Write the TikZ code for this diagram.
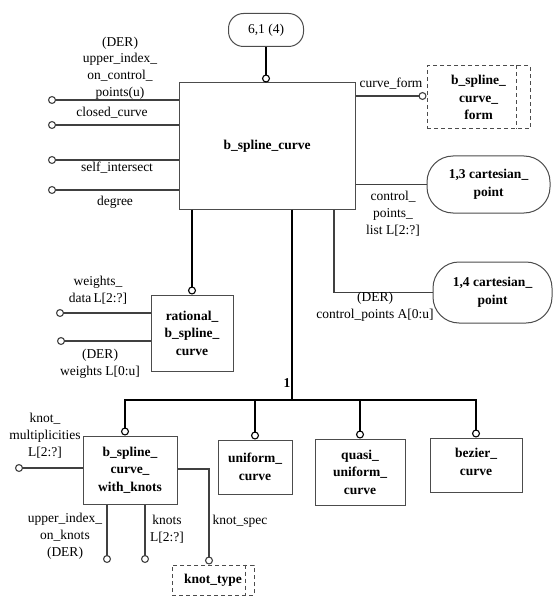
\documentclass[tikz,border=0pt]{standalone}
\usepackage{fontspec}
\setmainfont{Liberation Serif}
\usetikzlibrary{arrows.meta}
\begin{document}
\begin{tikzpicture}[x=1pt,y=-1pt,
  every node/.style={font=\fontsize{13.5}{16}\selectfont, align=center, inner sep=0pt},
  ent/.style={draw=black!70, line width=1pt, font=\fontsize{13.5}{17.5}\selectfont\bfseries},
  dent/.style={ent, dash pattern=on 4pt off 3pt},
  rnd/.style={ent, rounded corners=26pt},
  lbl/.style={font=\fontsize{13.5}{16.8}\selectfont},
  thinln/.style={draw=black!75, line width=1.1pt},
  thickln/.style={draw=black, line width=2pt},
  ctip/.tip={Circle[open, length=8pt, line width=1.1pt]},
  ]
\useasboundingbox (0,0) rectangle (557,604);
% entities
\node[ent, rounded corners=15pt, font=\fontsize{13.5}{16}\selectfont, minimum width=75pt, minimum height=33pt] (top) at (266,30) {6,1 (4)};
\node[ent, minimum width=176pt, minimum height=126pt] (main) at (267,146) {b\_spline\_curve};
\node[dent, minimum width=103pt, minimum height=63pt] (bsf) at (478.5,97.5) {b\_spline\_\\curve\_\\form};
\node[rnd, minimum width=123pt, minimum height=57pt] (cp13) at (488.5,184.5) {1,3 cartesian\_\\point};
\node[rnd, minimum width=119pt, minimum height=61pt] (cp14) at (492.5,292.5) {1,4 cartesian\_\\point};
\node[ent, minimum width=82pt, minimum height=76pt] (rat) at (192,333) {rational\_\\b\_spline\_\\curve};
\node[ent, minimum width=94pt, minimum height=68pt] (bwk) at (130,470) {b\_spline\_\\curve\_\\with\_knots};
\node[ent, minimum width=74pt, minimum height=54pt] (uni) at (255,467) {uniform\_\\curve};
\node[ent, minimum width=90pt, minimum height=66pt] (qua) at (360,472) {quasi\_\\uniform\_\\curve};
\node[ent, minimum width=92pt, minimum height=54pt] (bez) at (476,465) {};
\node[font=\fontsize{13.5}{17.5}\selectfont\bfseries] (beztxt) at (476,462) {bezier\_\\curve};
\node[dent, minimum width=82pt, minimum height=30pt] (kt) at (213,580) {knot\_type};
% inner dashed lines
\coordinate (bsfx) at (516,0);
\coordinate (ktx) at (245,0);
\draw[draw=black!70, line width=1pt, dash pattern=on 4pt off 3pt] (bsf.north -| bsfx) -- (bsf.south -| bsfx);
\draw[draw=black!70, line width=1pt, dash pattern=on 4pt off 3pt] (kt.north -| ktx) -- (kt.south -| ktx);
% top
\draw[thickln, -ctip] (top.south) -- (main.north -| top.south);
% left attributes of main
\coordinate (a1) at (48,100);
\coordinate (a2) at (48,125);
\coordinate (a3) at (48,160);
\coordinate (a4) at (48,190);
\draw[thinln, ctip-] (a1) -- (a1 -| main.west);
\draw[thinln, ctip-] (a2) -- (a2 -| main.west);
\draw[thinln, ctip-] (a3) -- (a3 -| main.west);
\draw[thinln, ctip-] (a4) -- (a4 -| main.west);
\node[lbl] (l1) at (120,68) {(DER)\\upper\_index\_\\on\_control\_\\points(u)};
\node[lbl] (l2) at (112,113) {closed\_curve};
\node[lbl] (l3) at (117,168) {self\_intersect};
\node[lbl] (l4) at (115,202) {degree};
% right of main
\coordinate (cfy) at (0,96);
\draw[thinln, -ctip] (main.east |- cfy) -- (bsf.west |- cfy);
\node[lbl] (lcf) at (391,84) {curve\_form};
\draw[thinln] (main.east |- cp13.west) -- (cp13.west);
\node[lbl] (lcp) at (393,214) {control\_\\points\_\\list L[2:?]};
\coordinate (cpa) at (334,0);
\draw[thinln] (main.south -| cpa) |- (cp14.west);
\node[lbl] (lca) at (375,307) {(DER)\\control\_points A[0:u]};
% rational
\draw[thickln, -ctip] (main.south -| rat.north) -- (rat.north);
\coordinate (w1) at (56,313);
\coordinate (w2) at (57,341);
\draw[thinln, ctip-] (w1) -- (w1 -| rat.west);
\draw[thinln, ctip-] (w2) -- (w2 -| rat.west);
\node[lbl] (lw1) at (98,290) {weights\_\\data\,L[2:?]};
\node[lbl] (lw2) at (100,364) {(DER)\\weights L[0:u]};
% subtype bus
\coordinate (bus) at (292,400);
\coordinate (busL) at (125,400);
\draw[thickln] (main.south -| bus) -- (bus);
\draw[thickln, line cap=rect] (busL) -- (bez.north |- bus);
\node[font=\fontsize{13.5}{16}\selectfont\bfseries] (one) at (287,383) {1};
\draw[thickln, -ctip] (busL) -- (busL |- bwk.north);
\draw[thickln, -ctip] (uni.north |- bus) -- (uni.north);
\draw[thickln, -ctip] (qua.north |- bus) -- (qua.north);
\draw[thickln, -ctip] (bez.north |- bus) -- (bez.north);
% with knots attributes
\coordinate (km) at (15,468);
\draw[thinln, ctip-] (km) -- (km -| bwk.west);
\node[lbl] (lkm) at (45,436) {knot\_\\multiplicities\\L[2:?]};
\coordinate (uk) at (107,563);
\coordinate (kn) at (145,563);
\draw[thinln, -ctip] (bwk.south -| uk) -- (uk);
\draw[thinln, -ctip] (bwk.south -| kn) -- (kn);
\node[lbl] (luk) at (65,536) {upper\_index\_\\on\_knots\\(DER)};
\node[lbl] (lkn) at (167,529) {knots\\L[2:?]};
\coordinate (ks) at (209,469);
\draw[thinln, -ctip] (bwk.east |- ks) -| (ks |- kt.north);
\node[lbl] (lks) at (240,521) {knot\_spec};
\end{tikzpicture}
\end{document}
